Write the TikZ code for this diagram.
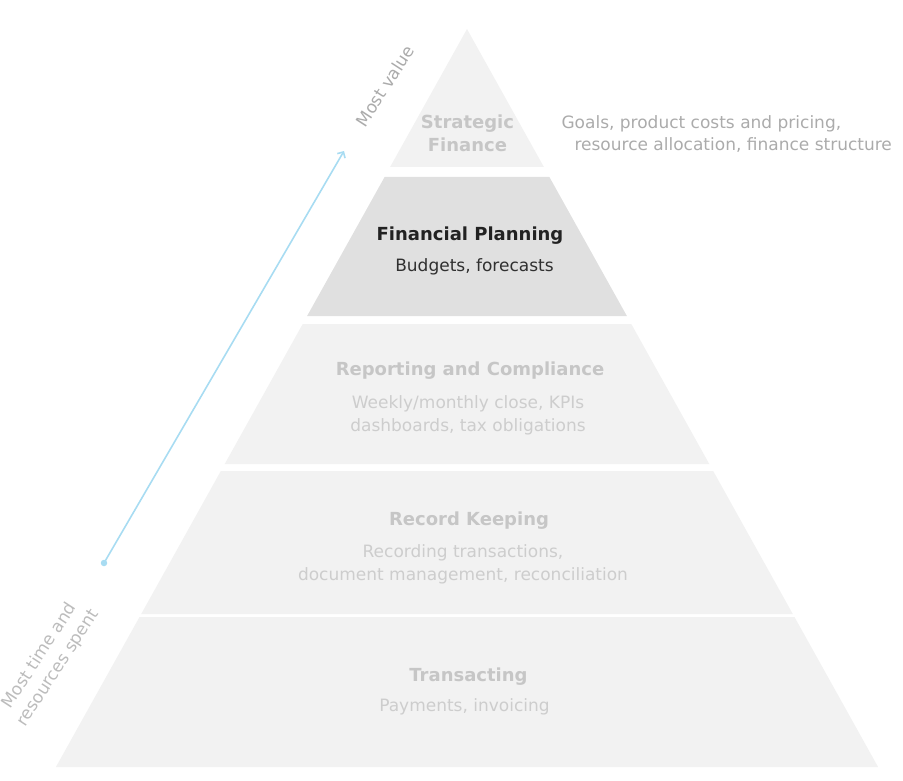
\documentclass[tikz,border=0pt]{standalone}
\usepackage{fontspec}
\setmainfont{DejaVu Sans}
\usetikzlibrary{arrows.meta}

\definecolor{layerlight}{HTML}{F2F2F2}
\definecolor{layerdark}{HTML}{E0E0E0}
\definecolor{fadedtitle}{HTML}{C6C6C6}
\definecolor{fadeddetail}{HTML}{CDCDCD}
\definecolor{darktitle}{HTML}{222222}
\definecolor{darkdetail}{HTML}{303030}
\definecolor{notegray}{HTML}{ABABAB}
\definecolor{arrowblue}{HTML}{A8DCF2}

\tikzset{
  layer/.style={fill=layerlight},
  title/.style={anchor=base, align=center,
    font=\fontsize{18}{23}\selectfont\bfseries, text=fadedtitle},
  detail/.style={anchor=base, align=center,
    font=\fontsize{17}{22.5}\selectfont, text=fadeddetail},
  note/.style={font=\fontsize{17}{22}\selectfont, text=notegray},
}

\begin{document}
\begin{tikzpicture}[x=1pt,y=-1pt]

\useasboundingbox
(0,0)
rectangle
(903,781);

% layers, top to bottom
\fill[layer]
(467,29) -- (543.9,167) -- (390.1,167) -- cycle;

\fill[layer,fill=layerdark]
(384.6,177) -- (549.4,177) -- (626.9,316) -- (307.1,316) -- cycle;

\fill[layer]
(302.7,324) -- (631.3,324) -- (709.3,464) -- (224.7,464) -- cycle;

\fill[layer]
(220.8,471) -- (713.2,471) -- (792.8,614) -- (141.2,614) -- cycle;

\fill[layer]
(139.5,617) -- (794.5,617) -- (878.1,767) -- (55.9,767) -- cycle;

% texts (base of a two line node = last line)
\node[title]
(strategic)
at (467.5,151.5)
{Strategic\\Finance};

\node[note,anchor=base west]
(goals)
at (558,128.5)
{Goals, product costs and pricing,};

\node[note,anchor=base west]
(resources)
at (571,150.5)
{resource allocation, finance structure};

\node[title,text=darktitle]
(planning)
at (470,240.5)
{Financial Planning};

\node[detail,text=darkdetail]
(budgets)
at (474.5,271)
{Budgets, forecasts};

\node[title]
(reporting)
at (470,375.5)
{Reporting and Compliance};

\node[detail]
(close)
at (468,431)
{Weekly/monthly close, KPIs\\dashboards, tax obligations};

\node[title]
(keeping)
at (469,525.5)
{Record Keeping};

\node[detail]
(recording)
at (463,580)
{Recording transactions,\\document management, reconciliation};

\node[title]
(transacting)
at (468.5,681.5)
{Transacting};

\node[detail]
(payments)
at (464.5,711.5)
{Payments, invoicing};

% value arrow
\node[circle,fill=arrowblue,inner sep=0pt,minimum size=6.5pt]
(lowend)
at (104,563)
{};

\coordinate
(highend)
at (344,151);

\draw[arrowblue,line width=1.6pt,-{Straight Barb[length=4.5pt,width=9pt]}]
(lowend.center)
--
(highend);

\node[note,rotate=57]
(mostvalue)
at (385,86)
{Most value};

\node[note,rotate=57,align=center,text=notegray!80]
(mosttime)
at (49,662)
{Most time and\\resources spent};

\end{tikzpicture}
\end{document}
